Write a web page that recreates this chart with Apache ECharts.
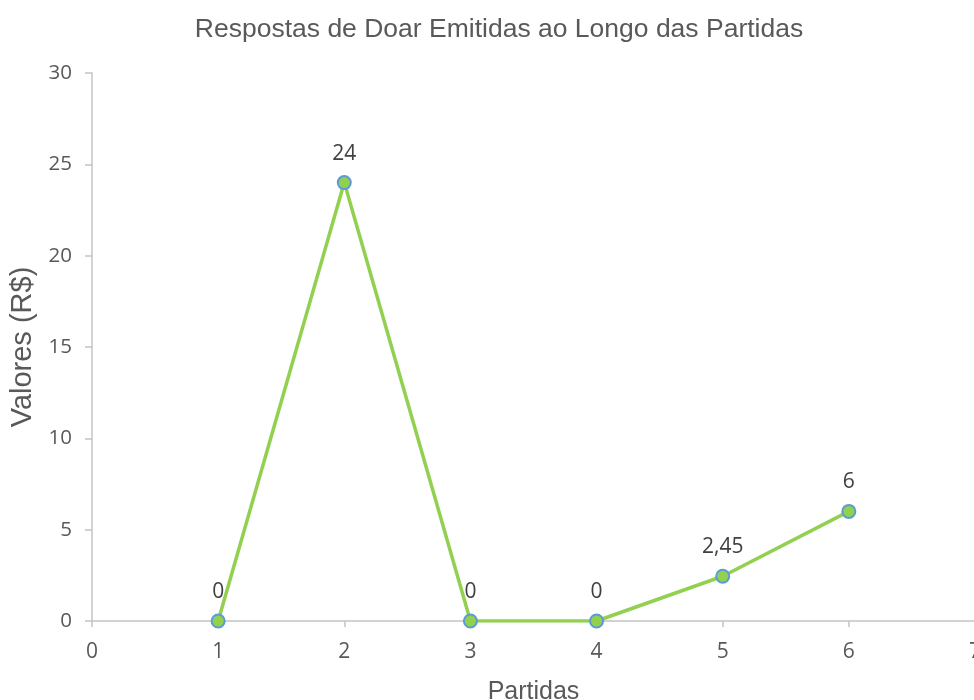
<!DOCTYPE html>
<html><head><meta charset="utf-8">
<script src="https://cdn.jsdelivr.net/npm/echarts@6/dist/echarts.min.js"></script>
<style>html,body{margin:0;padding:0;background:#fff}#c{width:974px;height:700px}</style>
</head><body><div id="c"></div>
<script>
var partidas = [1, 2, 3, 4, 5, 6];
var valores = [0, 24, 0, 0, 2.45, 6];
var titleText = 'Respostas de Doar Emitidas ao Longo das Partidas';
var xName = 'Partidas';
var yName = 'Valores (R$)';

var tickFont = '"Open Sans", sans-serif';
var chart = echarts.init(document.getElementById('c'));
var data = partidas.map(function (p, i) { return [p, valores[i]]; });
chart.setOption({
  animation: false,
  backgroundColor: '#ffffff',
  title: {
    text: titleText, left: 494, top: 11, textAlign: 'center',
    textStyle: { fontFamily: 'Liberation Sans', fontSize: 26.5, fontWeight: 'normal', color: '#595959' }
  },
  grid: { left: 92, right: -1, top: 73, bottom: 79, containLabel: false, outerBoundsMode: 'none' },
  xAxis: {
    type: 'value', min: 0, max: 7, interval: 1,
    name: xName, nameLocation: 'middle', nameGap: 59,
    nameTextStyle: { fontFamily: 'Liberation Sans', fontSize: 25, color: '#595959' },
    axisLine: { show: true, onZero: false, lineStyle: { color: '#c4c4c4', width: 1.5 } },
    axisTick: { show: true, length: 6, lineStyle: { color: '#c4c4c4', width: 1.5 } },
    axisLabel: { margin: 21, fontFamily: tickFont, fontSize: 21, color: '#595959', showMaxLabel: true, hideOverlap: false },
    splitLine: { show: false }
  },
  yAxis: {
    type: 'value', min: 0, max: 30, interval: 5,
    name: yName, nameLocation: 'middle', nameGap: 46,
    nameTextStyle: { fontFamily: 'Liberation Sans', fontSize: 29, color: '#595959' },
    axisLine: { show: true, lineStyle: { color: '#c4c4c4', width: 1.5 } },
    axisTick: { show: true, length: 7, lineStyle: { color: '#c4c4c4', width: 1.5 } },
    axisLabel: { margin: 20, fontFamily: tickFont, fontSize: 20.5, color: '#595959' },
    splitLine: { show: false }
  },
  series: [{
    type: 'line', data: data,
    symbol: 'circle', symbolSize: 13,
    lineStyle: { color: '#92d050', width: 3.5 },
    itemStyle: { color: '#92d050', borderColor: '#5b9bd5', borderWidth: 2 },
    label: {
      show: true, position: 'top', distance: 11,
      fontFamily: 'Open Sans', fontSize: 21, color: '#404040',
      formatter: function (p) { return String(p.value[1]).replace('.', ','); }
    },
    z: 3
  }]
});
</script></body></html>
